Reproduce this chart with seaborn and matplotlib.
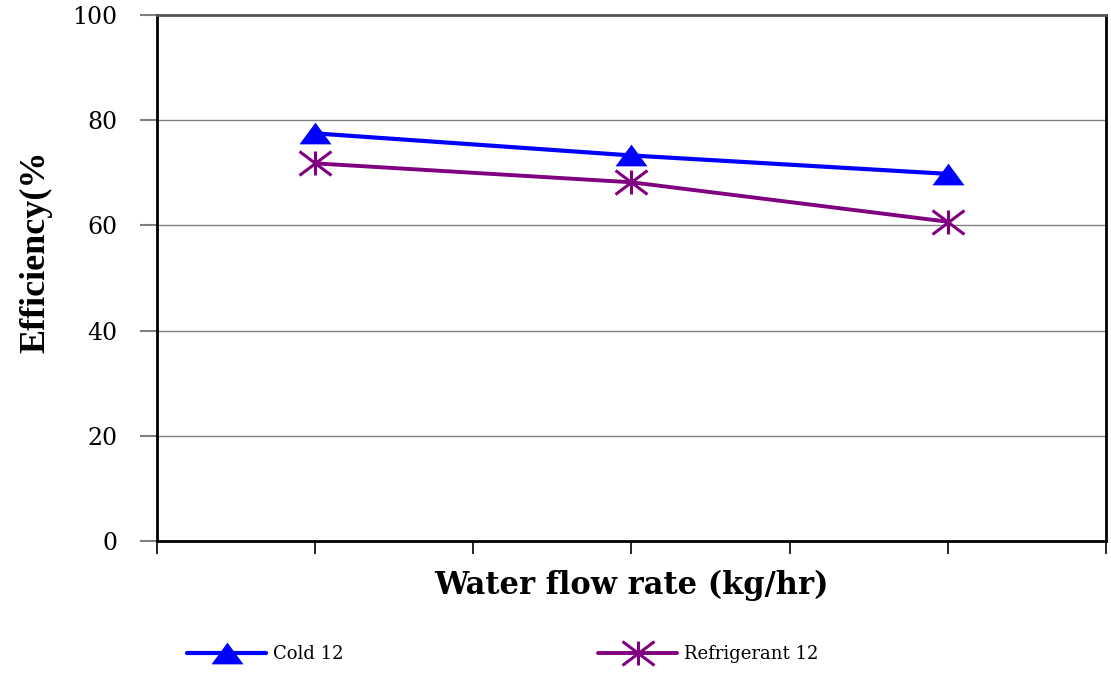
import numpy as np
import pandas as pd
import matplotlib
matplotlib.use("Agg")
import matplotlib.pyplot as plt
from matplotlib.path import Path
from matplotlib.lines import Line2D
import seaborn as sns

# Efficiency readings at three water flow settings
flow_positions = [1, 3, 5]
cold12 = [77.5, 73.3, 69.8]
refrigerant12 = [71.8, 68.2, 60.7]
series_names = ["Cold 12", "Refrigerant 12"]
y_ticks = [0, 20, 40, 60, 80, 100]

df = pd.DataFrame({
    "pos": flow_positions * 2,
    "eff": cold12 + refrigerant12,
    "series": [series_names[0]] * 3 + [series_names[1]] * 3,
})

sns.set_theme(style="white")
plt.rcParams["font.family"] = ["Liberation Serif", "DejaVu Serif"]
plt.rcParams.update({"text.color": "black", "axes.labelcolor": "black",
                     "xtick.color": "black", "ytick.color": "black"})

fig = plt.figure(figsize=(11.11, 6.77), dpi=100)
ax = fig.add_axes([0.1413, 0.2009, 0.9955 - 0.1413, 0.9778 - 0.2009])

# wide triangle and asterisk markers
tri = Path([(-1.0, -0.68), (1.0, -0.68), (0.0, 0.68), (-1.0, -0.68)],
           [Path.MOVETO, Path.LINETO, Path.LINETO, Path.CLOSEPOLY])
star = Path([(0, -0.75), (0, 0.75), (-1, -0.75), (1, 0.75), (-1, 0.75), (1, -0.75)],
            [Path.MOVETO, Path.LINETO, Path.MOVETO, Path.LINETO, Path.MOVETO, Path.LINETO])

blue = "#0000FF"
purple = "#800080"
tri_style = dict(color=blue, linewidth=3.0, marker=tri, markersize=23,
                 markeredgewidth=0, markerfacecolor=blue)
star_style = dict(color=purple, linewidth=2.8, marker=star, markersize=23,
                  markeredgewidth=2.2, markeredgecolor=purple, markerfacecolor="none")

sns.lineplot(data=df[df.series == series_names[0]], x="pos", y="eff", ax=ax,
             legend=False, **tri_style)
sns.lineplot(data=df[df.series == series_names[1]], x="pos", y="eff", ax=ax,
             legend=False, **star_style)

ax.set_xlim(0, 6)
ax.set_ylim(0, 100)
ax.set_xticks(range(7))
ax.set_xticklabels([])
ax.set_yticks(y_ticks)
ax.set_yticklabels([str(v) for v in y_ticks], family="DejaVu Serif", fontsize=17)

for y in y_ticks[1:-1]:
    ax.axhline(y, color="#808080", linewidth=1.0, zorder=0)

for side in ["left", "bottom", "right"]:
    ax.spines[side].set_color("black")
    ax.spines[side].set_linewidth(2.0)
ax.spines["top"].set_color("#555555")
ax.spines["top"].set_linewidth(2.0)

ax.tick_params(axis="y", which="both", left=True, length=12, width=1.5,
               color="#808080", labelcolor="black", pad=16.5, direction="out")
ax.tick_params(axis="x", which="both", bottom=True, length=9, width=1.2,
               color="black", direction="out")

ax.set_xlabel("Water flow rate (kg/hr)", family="DejaVu Serif", fontsize=22,
              fontweight="bold", labelpad=8)
ax.set_ylabel("Efficiency(%", family="Liberation Serif", fontsize=26,
              fontweight="bold")
ax.yaxis.set_label_coords(-0.11, 0.55)

for handle_style, name, x0 in [(tri_style, series_names[0], 0.1683),
                               (star_style, series_names[1], 0.5383)]:
    leg = fig.legend([Line2D([], [], **handle_style)], [name], loc="center left",
                     bbox_to_anchor=(x0, 0.034), frameon=False,
                     prop={"family": "DejaVu Serif", "size": 13},
                     handlelength=4.4, handletextpad=0.35,
                     borderpad=0, borderaxespad=0)

fig.savefig("out.png", dpi=100, facecolor="white")
